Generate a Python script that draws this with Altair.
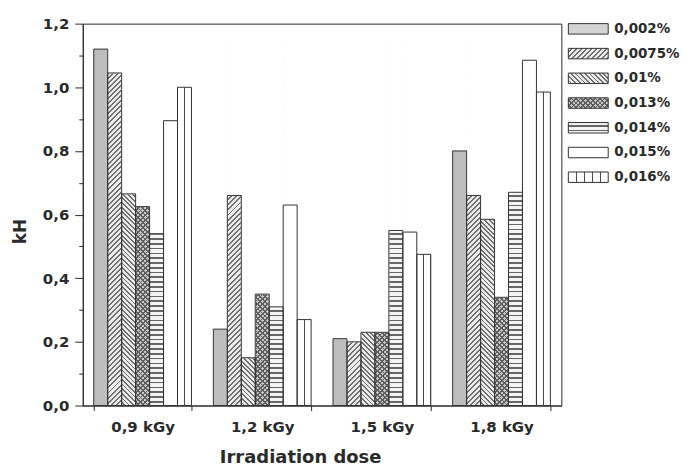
import math
import altair as alt
import pandas as pd

# ---------------- data ----------------
doses = ["0,9 kGy", "1,2 kGy", "1,5 kGy", "1,8 kGy"]
series = ["0,002%", "0,0075%", "0,01%", "0,013%", "0,014%", "0,015%", "0,016%"]
v_0002 = [1.12, 0.24, 0.21, 0.80]
v_00075 = [1.045, 0.66, 0.20, 0.66]
v_001 = [0.665, 0.15, 0.23, 0.585]
v_0013 = [0.625, 0.35, 0.23, 0.34]
v_0014 = [0.54, 0.31, 0.55, 0.67]
v_0015 = [0.895, 0.63, 0.545, 1.085]
v_0016 = [1.00, 0.27, 0.475, 0.985]
y_ticks = [0.0, 0.1, 0.2, 0.3, 0.4, 0.5, 0.6, 0.7, 0.8, 0.9, 1.0, 1.1, 1.2]

all_vals = [v_0002, v_00075, v_001, v_0013, v_0014, v_0015, v_0016]
rows = []
for s, vs in zip(series, all_vals):
    for d, v in zip(doses, vs):
        rows.append({"dose": d, "series": s, "value": v})
df = pd.DataFrame(rows)

# ---------------- layout ----------------
PLOT_W, PLOT_H = 480, 383
Y_MAX = 1.2
FILL_TOP = 1.15
COVER_TOP = 1.165
P_IN, P_OUT = 0.183, 0.0915
STEP = PLOT_W / (len(doses) - P_IN + 2 * P_OUT)
BAR_W = STEP * (1 - P_IN) / len(series)
FULL_H = FILL_TOP / Y_MAX * PLOT_H
FONT = "DejaVu Sans"
INK = "#2a2a2a"


def hatch(W, H, a, b, period, width, line, bg, phase=None):
    n = math.hypot(a, b)
    a, b = a / n, b / n
    L = abs(a) * W + abs(b) * H
    k = L / (a * a * W * W + b * b * H * H)
    x1 = 0.0 if a >= 0 else 1.0
    y1 = 0.0 if b >= 0 else 1.0
    x2 = x1 + k * a * W
    y2 = y1 + k * b * H
    stops = [{"offset": 0, "color": bg}]
    pos = period / 2 if phase is None else phase
    while pos < L:
        o1 = round(pos / L, 5)
        o2 = round(min((pos + width) / L, 1.0), 5)
        stops += [
            {"offset": o1, "color": bg},
            {"offset": o1, "color": line},
            {"offset": o2, "color": line},
            {"offset": o2, "color": bg},
        ]
        pos += period
    stops.append({"offset": 1, "color": bg})
    return {"gradient": "linear", "x1": round(x1, 5), "y1": round(y1, 5),
            "x2": round(x2, 5), "y2": round(y2, 5), "stops": stops}


CLEAR = "rgba(255,255,255,0)"


def patterns(W, H, vert_period, vert_phase):
    return {
        "slash": hatch(W, H, 1, 1, 3.6, 1.4, "#6e6e6e", "#ececec"),
        "back": hatch(W, H, 1, -1, 3.3, 1.3, "#6e6e6e", "#ececec"),
        "cross1": hatch(W, H, 1, 1, 3.4, 1.3, "#5e5e5e", "#c9c9c9"),
        "cross2": hatch(W, H, 1, -1, 3.4, 1.3, "#5e5e5e", CLEAR),
        "horiz": hatch(W, H, 0, 1, 4.8, 1.7, "#666666", "#f4f4f4"),
        "vert": hatch(W, H, 1, 0, vert_period, 1.1, "#4a4a4a", "white", phase=vert_phase),
    }


pat_bar = patterns(BAR_W, FULL_H, BAR_W / 2, BAR_W / 2 - 0.55)

# ---------------- main chart ----------------
xscale = alt.Scale(domain=doses, paddingInner=P_IN, paddingOuter=P_OUT)
yscale = alt.Scale(domain=[0, Y_MAX], nice=False, zero=True)
xaxis = alt.Axis(title="Irradiation dose", labelAngle=0, tickBand="extent", tickSize=5,
                 labelPadding=9, titlePadding=14, titleX=218,
                 labelFont=FONT, labelFontWeight="bold", labelFontSize=15, labelColor=INK,
                 titleFont=FONT, titleFontWeight="bold", titleFontSize=18, titleColor=INK,
                 domainColor=INK, tickColor=INK)
yaxis = alt.Axis(title="kH", values=y_ticks, grid=False, labelOverlap=False,
                 labelExpr="round(datum.value*10) % 2 == 0 ? replace(format(datum.value, '.1f'), '.', ',') : ''",
                 tickSize={"condition": {"test": "round(datum.value*10) % 2 == 0", "value": 8}, "value": 4},
                 labelPadding=6, titlePadding=13, titleY=208,
                 labelFont=FONT, labelFontWeight="bold", labelFontSize=15, labelColor=INK,
                 titleFont=FONT, titleFontWeight="bold", titleFontSize=17, titleColor=INK,
                 domainColor=INK, tickColor=INK)

base = alt.Chart(df)
X = alt.X("dose:N", sort=doses, scale=xscale, axis=xaxis)
XO = alt.XOffset("series:N", sort=series, scale=alt.Scale(domain=series, paddingInner=0, paddingOuter=0))


def Yq(field):
    return alt.Y(field, type="quantitative", scale=yscale, axis=yaxis, stack=None)


def only(s):
    return base.transform_filter(alt.datum.series == s)


def simple_layer(s, fill):
    return only(s).mark_bar(fill=fill, strokeWidth=0).encode(x=X, xOffset=XO, y=Yq("value"))


def full_layer(s, fill):
    return (only(s).transform_calculate(top=str(FILL_TOP), bot="0")
            .mark_bar(fill=fill, strokeWidth=0)
            .encode(x=X, xOffset=XO, y=Yq("top"), y2=alt.Y2("bot:Q")))


layers = [
    simple_layer(series[0], "#bdbdbd"),
    full_layer(series[1], pat_bar["slash"]),
    full_layer(series[2], pat_bar["back"]),
    full_layer(series[3], pat_bar["cross1"]),
    full_layer(series[3], pat_bar["cross2"]),
    full_layer(series[4], pat_bar["horiz"]),
    simple_layer(series[5], "white"),
    simple_layer(series[6], pat_bar["vert"]),
]
cover = (base.transform_filter(alt.FieldOneOfPredicate(field="series", oneOf=series[1:5]))
         .transform_calculate(top=str(COVER_TOP))
         .mark_bar(fill="white", stroke="white", strokeWidth=1)
         .encode(x=X, xOffset=XO, y=Yq("top"), y2=alt.Y2("value:Q")))
outline = base.mark_bar(fillOpacity=0, stroke="#333333", strokeWidth=1).encode(
    x=X, xOffset=XO, y=Yq("value"))

main = alt.layer(*layers, cover, outline).properties(
    width=PLOT_W, height=PLOT_H, view=alt.ViewBackground(stroke=INK, strokeWidth=1))

# ---------------- legend panel ----------------
SW_W, SW_H, L_STEP = 40, 10.5, 24.8
L_PIN = 1 - SW_H / L_STEP
pat_leg = patterns(SW_W, SW_H, 8, 8)
lbase = alt.Chart(pd.DataFrame({"series": series}))
LY = alt.Y("series:N", sort=series, axis=None,
           scale=alt.Scale(domain=series, paddingInner=L_PIN, paddingOuter=0))


def swatch(s, fill):
    return (lbase.transform_filter(alt.datum.series == s)
            .mark_rect(fill=fill, strokeWidth=0)
            .encode(y=LY, x=alt.value(2), x2=alt.value(2 + SW_W)))


leg_fills = ["#d4d4d4", pat_leg["slash"], pat_leg["back"], pat_leg["cross1"],
             pat_leg["cross2"], pat_leg["horiz"], "white", pat_leg["vert"]]
leg_series = [series[0], series[1], series[2], series[3], series[3], series[4], series[5], series[6]]
leg_layers = [swatch(s, f) for s, f in zip(leg_series, leg_fills)]
leg_outline = lbase.mark_rect(fillOpacity=0, stroke="#333333", strokeWidth=1).encode(
    y=LY, x=alt.value(2), x2=alt.value(2 + SW_W))
leg_text = lbase.mark_text(align="left", baseline="middle", font=FONT, fontWeight="bold",
                           fontSize=13.5, color=INK).encode(
    y=LY, x=alt.value(2 + SW_W + 6), text="series:N")
legend = alt.layer(*leg_layers, leg_outline, leg_text).properties(
    width=112, height=L_STEP * (len(series) - L_PIN))

chart = (alt.hconcat(main, legend, spacing=5, bounds="flush")
         .properties(padding={"left": 2, "top": 7, "right": 0, "bottom": 0})
         .configure_view(stroke=None))

chart.save("out.html", embed_options={"renderer": "svg", "actions": False})
